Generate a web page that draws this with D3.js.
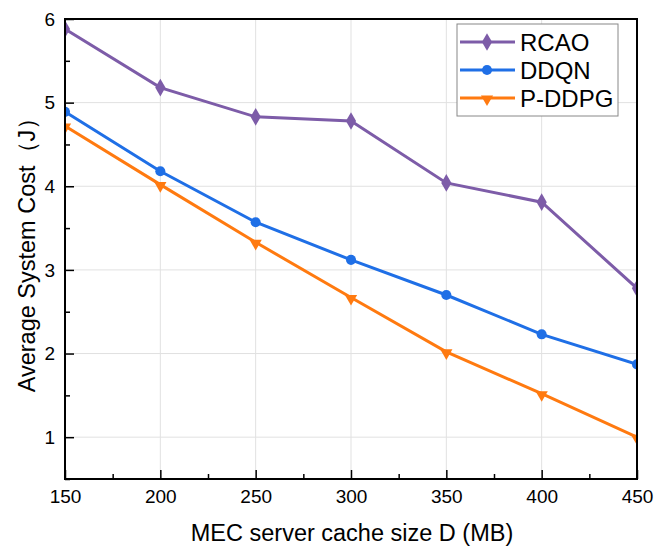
<!DOCTYPE html>
<html>
<head>
<meta charset="utf-8">
<script src="https://cdn.jsdelivr.net/npm/d3@7"></script>
<style>
  body { margin: 0; background: #fff; }
  text { font-family: Arial, "Liberation Sans", sans-serif; fill: #000; }
</style>
</head>
<body>
<div id="container"></div>
<script>
// data
const cacheSizes = [150, 200, 250, 300, 350, 400, 450];
const rcao = [5.88, 5.18, 4.83, 4.78, 4.04, 3.81, 2.78];
const ddqn = [4.89, 4.18, 3.57, 3.12, 2.70, 2.23, 1.87];
const pddpg = [4.72, 4.02, 3.33, 2.67, 2.02, 1.52, 1.00];
const xTicks = [150, 200, 250, 300, 350, 400, 450];
const yTicks = [1, 2, 3, 4, 5, 6];

const seriesNames = ['RCAO', 'DDQN', 'P-DDPG'];
const seriesColors = ['#7d5ca8', '#1f6fe6', '#ff7a10'];
const seriesShapes = [d3.symbolDiamond, d3.symbolCircle, d3.symbolTriangle];

const svgWidth = 654,
  svgHeight = 548,
  plotLeft = 65,
  plotRight = 637,
  plotTop = 19,
  plotBottom = 479;

const svg = d3
  .select('#container')
  .append('svg')
  .attr('width', svgWidth)
  .attr('height', svgHeight);

const xScale = d3.scaleLinear().domain([150, 450]).range([plotLeft, plotRight]);
const yScale = d3.scaleLinear().domain([0.5, 6]).range([plotBottom, plotTop]);

// grid
svg
  .append('g')
  .selectAll('line')
  .data(xTicks)
  .enter()
  .append('line')
  .attr('x1', (d) => xScale(d))
  .attr('x2', (d) => xScale(d))
  .attr('y1', plotTop)
  .attr('y2', plotBottom)
  .attr('stroke', '#e1e1e1')
  .attr('stroke-width', 1);

svg
  .append('g')
  .selectAll('line')
  .data(yTicks)
  .enter()
  .append('line')
  .attr('x1', plotLeft)
  .attr('x2', plotRight)
  .attr('y1', (d) => yScale(d))
  .attr('y2', (d) => yScale(d))
  .attr('stroke', '#e1e1e1')
  .attr('stroke-width', 1);

// clip for the plot area
svg
  .append('clipPath')
  .attr('id', 'plot-clip')
  .append('rect')
  .attr('x', plotLeft)
  .attr('y', plotTop)
  .attr('width', plotRight - plotLeft)
  .attr('height', plotBottom - plotTop);

const plot = svg.append('g').attr('clip-path', 'url(#plot-clip)');

const allSeries = [rcao, ddqn, pddpg];
const line = d3
  .line()
  .x((d, i) => xScale(cacheSizes[i]))
  .y((d) => yScale(d));

const symbolSize = (s) => (s === 0 ? 90 : s === 1 ? 80 : 65);

allSeries.forEach((values, s) => {
  plot
    .append('path')
    .datum(values)
    .attr('d', line)
    .attr('fill', 'none')
    .attr('stroke', seriesColors[s])
    .attr('stroke-width', 3);

  const sym = d3.symbol().type(seriesShapes[s]).size(symbolSize(s));

  plot
    .append('g')
    .selectAll('path')
    .data(values)
    .enter()
    .append('path')
    .attr('d', sym)
    .attr('fill', seriesColors[s])
    .attr(
      'transform',
      (d, i) =>
        `translate(${xScale(cacheSizes[i])},${yScale(d) + (s === 2 ? 1 : 0)})` +
        (s === 2 ? ' rotate(180)' : '')
    );
});

// axes with inward ticks
const xAxis = d3
  .axisBottom(xScale)
  .tickValues(xTicks)
  .tickSize(-9)
  .tickPadding(11)
  .tickFormat(d3.format('d'));
const yAxis = d3
  .axisLeft(yScale)
  .tickValues(yTicks)
  .tickSize(-9)
  .tickPadding(10)
  .tickFormat(d3.format('d'));

const gx = svg
  .append('g')
  .attr('transform', `translate(0,${plotBottom})`)
  .call(xAxis);
const gy = svg.append('g').attr('transform', `translate(${plotLeft},0)`).call(yAxis);

[gx, gy].forEach((g) => {
  g.select('.domain').remove();
  g.selectAll('.tick line').attr('stroke', '#000').attr('stroke-width', 1.5);
  g.selectAll('.tick text')
    .style('font-family', 'Arial, "Liberation Sans", sans-serif')
    .style('font-size', '19px')
    .attr('fill', '#000');
});

// minor ticks
const xMinor = xTicks.slice(0, -1).map((d) => d + 25);
const yMinor = [0.5, 1.5, 2.5, 3.5, 4.5, 5.5];
svg
  .append('g')
  .attr('transform', `translate(0,${plotBottom})`)
  .call(d3.axisBottom(xScale).tickValues(xMinor).tickSize(-5).tickFormat(''))
  .call((g) => g.select('.domain').remove())
  .selectAll('.tick line')
  .attr('stroke', '#000')
  .attr('stroke-width', 1.5);
svg
  .append('g')
  .attr('transform', `translate(${plotLeft},0)`)
  .call(d3.axisLeft(yScale).tickValues(yMinor).tickSize(-5).tickFormat(''))
  .call((g) => g.select('.domain').remove())
  .selectAll('.tick line')
  .attr('stroke', '#000')
  .attr('stroke-width', 1.5);

// frame
svg
  .append('rect')
  .attr('x', plotLeft)
  .attr('y', plotTop)
  .attr('width', plotRight - plotLeft)
  .attr('height', plotBottom - plotTop)
  .attr('fill', 'none')
  .attr('stroke', '#000')
  .attr('stroke-width', 2);

// axis titles
svg
  .append('text')
  .attr('x', (plotLeft + plotRight) / 2 + 1)
  .attr('y', 541)
  .attr('text-anchor', 'middle')
  .style('font-size', '23.5px')
  .text('MEC server cache size D (MB)');

svg
  .append('text')
  .attr('transform', `translate(35,${(plotTop + plotBottom) / 2}) rotate(-90)`)
  .attr('text-anchor', 'middle')
  .style('font-size', '23.5px')
  .text('Average System Cost（J）');

// legend
const legend = svg.append('g').attr('transform', 'translate(457,24)');
legend
  .append('rect')
  .attr('width', 161)
  .attr('height', 92)
  .attr('fill', '#fff')
  .attr('stroke', '#888')
  .attr('stroke-width', 1);

seriesNames.forEach((name, s) => {
  const cy = 18 + s * 28;
  legend
    .append('line')
    .attr('x1', 3)
    .attr('x2', 58)
    .attr('y1', cy)
    .attr('y2', cy)
    .attr('stroke', seriesColors[s])
    .attr('stroke-width', 3);
  legend
    .append('path')
    .attr('d', d3.symbol().type(seriesShapes[s]).size(symbolSize(s)))
    .attr('fill', seriesColors[s])
    .attr('transform', `translate(30,${cy + (s === 2 ? 1 : 0)})` + (s === 2 ? ' rotate(180)' : ''));
  legend
    .append('text')
    .attr('x', 63)
    .attr('y', cy + 8.5)
    .style('font-size', '24px')
    .text(name);
});
</script>
</body>
</html>
